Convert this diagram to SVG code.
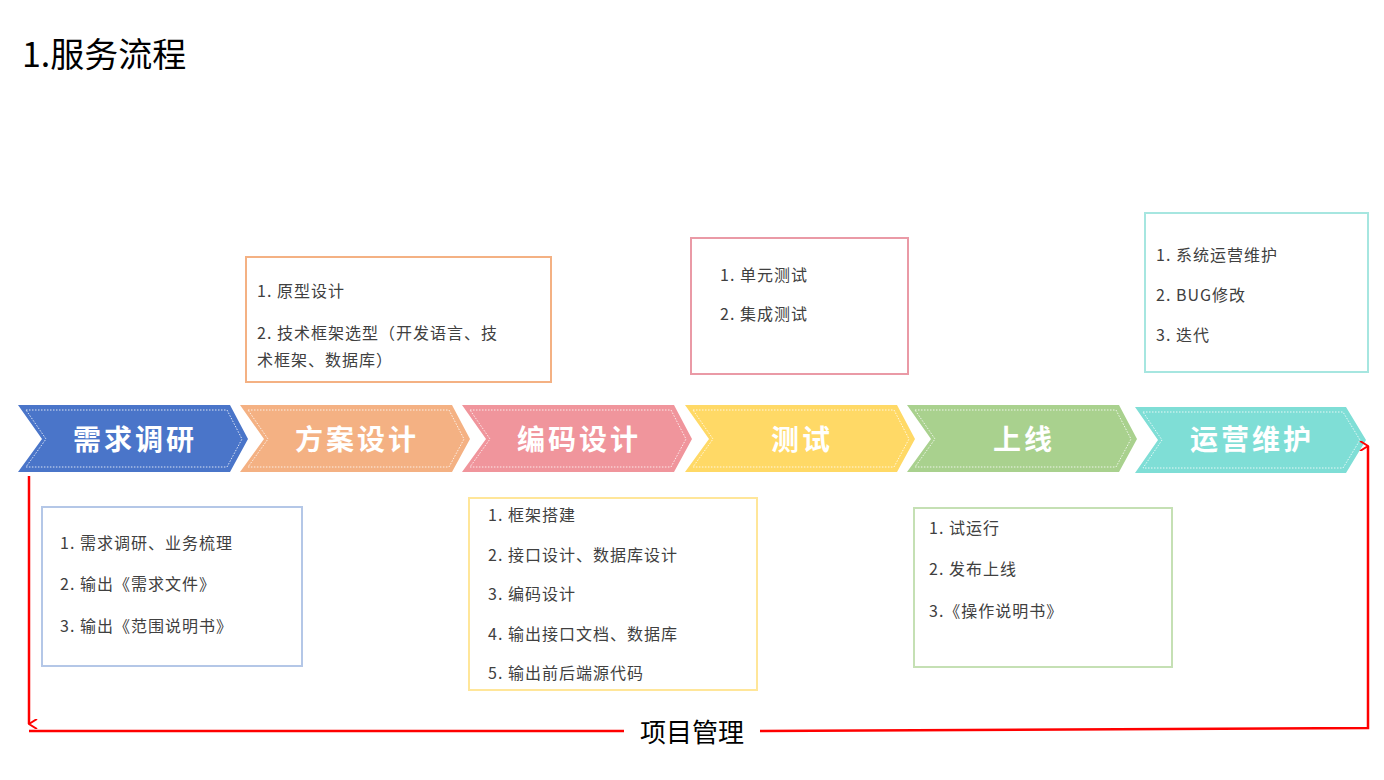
<svg xmlns="http://www.w3.org/2000/svg" width="1384" height="780" viewBox="0 0 1384 780">
<style>
.t{font-family:"Noto Sans CJK SC","Noto Sans",sans-serif;font-size:16px;fill:#404040;letter-spacing:1px}
.h{font-family:"Noto Sans CJK SC",sans-serif;font-size:28px;font-weight:bold;fill:#fff;text-anchor:middle;letter-spacing:3px}
.d{fill:none;stroke:#fff;stroke-width:1;stroke-dasharray:1.5 1.5;opacity:0.8}
.b{fill:#fff;stroke-width:2}
</style>
<defs>
<marker id="a" viewBox="0 0 10 10" refX="5" refY="9" markerWidth="10" markerHeight="10" orient="auto-start-reverse" markerUnits="userSpaceOnUse"><path d="M0,1 L5,9 L10,1" fill="none" stroke="#f00" stroke-width="2"/></marker>
</defs>
<rect width="1384" height="780" fill="#fff"/>
<text x="22" y="67" font-family="Noto Sans CJK SC,sans-serif" font-size="34" fill="#000">1.服务流程</text>
<g id="s1"><polygon points="18,405 230,405 248,439 230,472 18,472 42,439" fill="#4A75C9"/><polygon points="26,410 227,410 242,439 227,467 26,467 46,439" class="d"/><text x="135" y="450" class="h">需求调研</text></g>
<g id="s2"><polygon points="240,405 452,405 470,439 452,472 240,472 264,439" fill="#F4B183"/><polygon points="248,410 449,410 464,439 449,467 248,467 268,439" class="d"/><text x="357" y="450" class="h">方案设计</text></g>
<g id="s3"><polygon points="462,405 674,405 692,439 674,472 462,472 486,439" fill="#F0959C"/><polygon points="470,410 671,410 686,439 671,467 470,467 490,439" class="d"/><text x="579" y="450" class="h">编码设计</text></g>
<g id="s4"><polygon points="685,405 897,405 915,439 897,472 685,472 709,439" fill="#FFD966"/><polygon points="693,410 894,410 909,439 894,467 693,467 713,439" class="d"/><text x="802" y="450" class="h">测试</text></g>
<g id="s5"><polygon points="907,405 1119,405 1137,439 1119,472 907,472 931,439" fill="#A9D18E"/><polygon points="915,410 1116,410 1131,439 1116,467 915,467 935,439" class="d"/><text x="1024" y="450" class="h">上线</text></g>
<g id="s6"><polygon points="1135,407 1346,407 1366,440 1346,473 1135,473 1158,440" fill="#7FDED6"/><polygon points="1143,412 1343,412 1360,440 1343,468 1143,468 1162,440" class="d"/><text x="1252" y="450" class="h">运营维护</text></g>
<g id="n2"><rect x="246" y="257" width="305" height="125" class="b" stroke="#F4B183"/><text class="t" x="257" y="297">1. 原型设计</text><text class="t" x="257" y="339">2. 技术框架选型（开发语言、技</text><text class="t" x="257" y="366">术框架、数据库）</text></g>
<g id="n4"><rect x="691" y="238" width="217" height="136" class="b" stroke="#EA9AA6"/><text class="t" x="720" y="281">1. 单元测试</text><text class="t" x="720" y="320">2. 集成测试</text></g>
<g id="n6"><rect x="1145" y="213" width="223" height="159" class="b" stroke="#A6E6E0"/><text class="t" x="1156" y="261">1. 系统运营维护</text><text class="t" x="1156" y="301">2. BUG修改</text><text class="t" x="1156" y="341">3. 迭代</text></g>
<g id="n1"><rect x="42" y="507" width="260" height="159" class="b" stroke="#B4C7E7"/><text class="t" x="60" y="549">1. 需求调研、业务梳理</text><text class="t" x="60" y="590">2. 输出《需求文件》</text><text class="t" x="60" y="632">3. 输出《范围说明书》</text></g>
<g id="n3"><rect x="469" y="498" width="288" height="192" class="b" stroke="#FFE699"/><text class="t" x="488" y="521">1. 框架搭建</text><text class="t" x="488" y="561">2. 接口设计、数据库设计</text><text class="t" x="488" y="600">3. 编码设计</text><text class="t" x="488" y="640">4. 输出接口文档、数据库</text><text class="t" x="488" y="679">5. 输出前后端源代码</text></g>
<g id="n5"><rect x="914" y="508" width="258" height="159" class="b" stroke="#C5E0B4"/><text class="t" x="929" y="534">1. 试运行</text><text class="t" x="929" y="575">2. 发布上线</text><text class="t" x="929" y="617">3.《操作说明书》</text></g>
<g id="connectors" fill="none" stroke="#f00" stroke-width="2.5">
<path d="M29,476 V724" marker-end="url(#a)"/>
<path d="M29,731 H624"/>
<path d="M760,731 L1368,728 V446" marker-end="url(#a)"/>
</g>
<text x="692" y="742" text-anchor="middle" font-family="Noto Sans CJK SC,sans-serif" font-size="26" fill="#000">项目管理</text>
</svg>
